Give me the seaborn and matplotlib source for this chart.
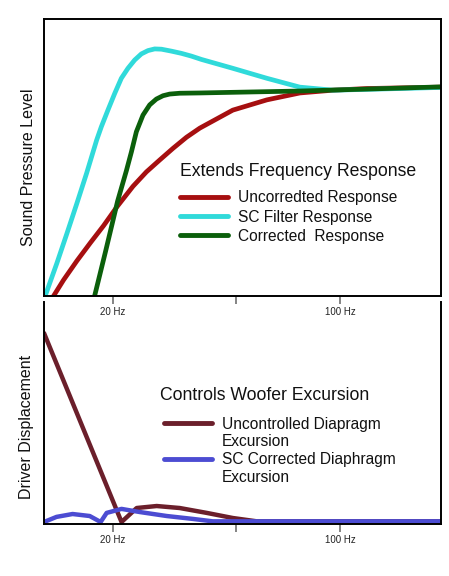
import matplotlib
matplotlib.use("Agg")
import matplotlib.pyplot as plt
from matplotlib.lines import Line2D
from matplotlib.ticker import NullLocator
import pandas as pd
import seaborn as sns

# =========================
# DATA (frequency in Hz, levels in relative units 0-100)
# =========================
# top panel - sound pressure level
uncorrected_freq = [13.16, 14.13, 15.53, 17.08, 18.76, 20.62, 23.1, 25.4, 27.91, 30.66,
                    33.73, 37.07, 46.83, 59.6, 75.3, 95.14, 121.1, 204.6]
uncorrected_spl = [0.0, 5.8, 12.7, 19.2, 25.4, 32.2, 39.6, 44.8, 49.1, 53.3,
                   57.3, 60.6, 67.1, 70.8, 73.3, 74.3, 74.9, 75.4]

filter_freq = [12.4, 13.47, 14.47, 15.53, 16.64, 17.86, 18.46, 19.34, 20.29, 21.27,
               22.29, 23.38, 24.51, 25.69, 26.94, 28.25, 30.32, 32.54, 34.94, 37.51,
               46.83, 59.6, 75.3, 95.14, 121.1, 152.9, 204.6]
filter_spl = [0.0, 11.8, 22.6, 33.5, 44.4, 56.3, 61.1, 67.1, 73.1, 78.6,
              82.2, 85.2, 87.4, 88.6, 89.2, 89.1, 88.4, 87.6, 86.6, 85.4,
              82.2, 78.6, 75.4, 74.3, 74.6, 74.9, 75.3]

corrected_freq = [17.6, 19.03, 20.72, 22.04, 22.84, 23.66, 24.79, 26.0, 27.26, 28.57,
                  29.95, 32.16, 37.07, 75.3, 121.1, 204.6]
corrected_spl = [0.0, 16.2, 34.3, 45.2, 52.0, 59.3, 65.3, 69.0, 71.1, 72.3,
                 72.9, 73.2, 73.3, 74.0, 74.7, 75.5]

# bottom panel - driver displacement
uncontrolled_freq = [12.3, 21.3, 23.71, 27.32, 32.16, 38.94, 46.83, 55.52, 204.6]
uncontrolled_disp = [86.0, 0.9, 7.2, 8.1, 7.2, 5.0, 2.7, 1.2, 1.2]

sc_corrected_freq = [12.3, 13.44, 15.06, 17.0, 18.37, 19.17, 21.3, 24.22, 29.32, 35.26,
                     40.64, 204.6]
sc_corrected_disp = [0.9, 3.2, 4.5, 3.6, 0.9, 5.0, 6.8, 5.4, 3.6, 2.3,
                     1.2, 1.2]

TOP_NAMES = ["Uncorredted Response", "SC Filter Response", "Corrected  Response"]
TOP_COLORS = ["#a60f10", "#30dada", "#0b5f0b"]
BOTTOM_NAMES = ["Uncontrolled Diapragm\nExcursion", "SC Corrected Diaphragm\nExcursion"]
BOTTOM_COLORS = ["#6b1f2b", "#4c4cd2"]

XTICKS = [20, 48, 100]
XTICK_LABELS = ["20 Hz", "", "100 Hz"]
XLIM = (12.3, 204.6)

# =========================
# SETTINGS
# =========================
sns.set_theme(style="white")
plt.rcParams["font.family"] = ["Liberation Sans", "DejaVu Sans"]


def long_form(names, freqs, values):
    frames = [pd.DataFrame({"freq": f, "value": v, "series": n})
              for n, f, v in zip(names, freqs, values)]
    return pd.concat(frames, ignore_index=True)


def style_axis(ax, ylabel, label_x, label_y):
    ax.set_xscale("log")
    ax.set_xlim(*XLIM)
    ax.set_ylim(0, 100)
    ax.set_xticks(XTICKS)
    ax.set_xticklabels(XTICK_LABELS)
    ax.xaxis.set_minor_locator(NullLocator())
    ax.set_yticks([])
    ax.tick_params(axis="x", bottom=True, direction="out", length=6, width=1.2,
                   color="#707070", labelsize=7, pad=2, labelcolor="#222222")
    ax.set_xlabel("")
    ax.set_ylabel(ylabel, fontsize=11.5, color="#111111")
    ax.yaxis.set_label_coords(label_x, label_y)
    for sp in ax.spines.values():
        sp.set_color("black")
        sp.set_linewidth(1.4)


def add_legend(ax, title, names, colors, title_xy, legend_xy, spacing):
    ax.text(title_xy[0], title_xy[1], title, transform=ax.transAxes,
            fontsize=12.7, ha="left", va="center", color="#111111")
    handles = []
    labels = []
    for n, c in zip(names, colors):
        parts = n.split("\n")
        handles.append(Line2D([], [], color=c, lw=3.5))
        labels.append(parts[0])
        for extra in parts[1:]:
            handles.append(Line2D([], [], color="none", lw=0))
            labels.append(extra)
    ax.legend(handles, labels, loc="upper left", bbox_to_anchor=legend_xy,
              frameon=False, fontsize=11.2, handlelength=3.1, handletextpad=0.64,
              labelspacing=spacing, borderpad=0, borderaxespad=0, labelcolor="#111111")


fig = plt.figure(figsize=(4.49, 5.76), dpi=100)
ax_top = fig.add_axes([44 / 449, 1 - 296 / 576, 397 / 449, 277 / 576])
ax_bot = fig.add_axes([44 / 449, 1 - 524 / 576, 397 / 449, 222 / 576])
ax_bot.set_facecolor("none")

# top panel
top_df = long_form(TOP_NAMES,
                   [uncorrected_freq, filter_freq, corrected_freq],
                   [uncorrected_spl, filter_spl, corrected_spl])
sns.lineplot(data=top_df, x="freq", y="value", hue="series", hue_order=TOP_NAMES,
             palette=TOP_COLORS, linewidth=3.4, estimator=None, legend=False, ax=ax_top)
style_axis(ax_top, "Sound Pressure Level", -0.02, 0.466)
add_legend(ax_top, "Extends Frequency Response", TOP_NAMES, TOP_COLORS,
           (0.343, 0.451), (0.343, 0.382), 0.28)

# bottom panel
bot_df = long_form(BOTTOM_NAMES,
                   [uncontrolled_freq, sc_corrected_freq],
                   [uncontrolled_disp, sc_corrected_disp])
sns.lineplot(data=bot_df, x="freq", y="value", hue="series", hue_order=BOTTOM_NAMES,
             palette=BOTTOM_COLORS, linewidth=3.2, estimator=None, legend=False, ax=ax_bot)
style_axis(ax_bot, "Driver Displacement", -0.025, 0.437)
ax_bot.spines["top"].set_visible(False)
add_legend(ax_bot, "Controls Woofer Excursion", BOTTOM_NAMES, BOTTOM_COLORS,
           (0.292, 0.581), (0.302, 0.484), 0.18)

fig.savefig("out.png", dpi=100, facecolor="white")
